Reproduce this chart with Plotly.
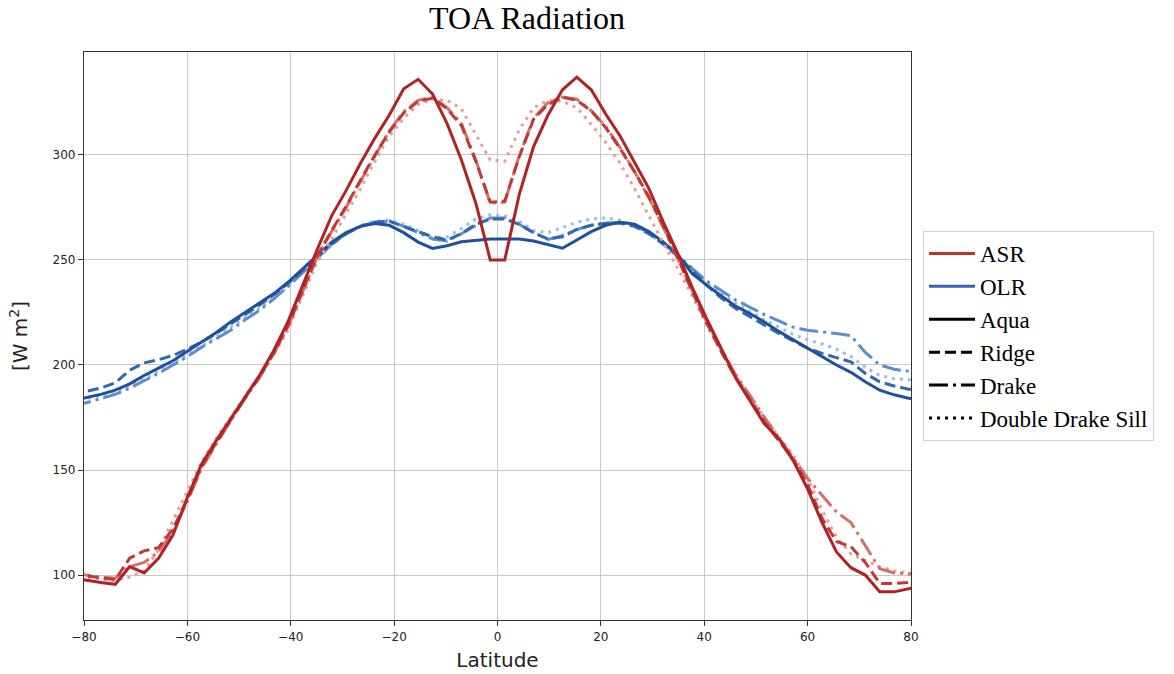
import plotly.graph_objects as go

latitude = [-82.31, -79.53, -76.74, -73.95, -71.16, -68.37, -65.58, -62.79, -60.00, -57.21,
            -54.42, -51.63, -48.84, -46.05, -43.26, -40.47, -37.67, -34.88, -32.09, -29.30,
            -26.51, -23.72, -20.93, -18.14, -15.35, -12.56, -9.77, -6.98, -4.19, -1.40,
            1.40, 4.19, 6.98, 9.77, 12.56, 15.35, 18.14, 20.93, 23.72, 26.51,
            29.30, 32.09, 34.88, 37.67, 40.47, 43.26, 46.05, 48.84, 51.63, 54.42,
            57.21, 60.00, 62.79, 65.58, 68.37, 71.16, 73.95, 76.74, 79.53, 82.31]

asr_aqua = [99, 97.5, 96.5, 95.6, 104, 101, 108, 119, 137, 153,
            164, 174.5, 185, 195, 207, 221, 238, 255, 271, 283,
            296, 308, 319, 331.5, 336, 329, 315, 297.6, 277, 250,
            250, 281, 304, 319, 331, 337, 331, 319.5, 309, 296.5,
            284, 268, 253, 237, 222, 208, 194, 183, 172, 165,
            154.5, 141, 125, 111, 103.5, 100, 92, 92, 93.5, 95]
asr_ridge = [100.5, 99.5, 98.5, 97.8, 108, 111.5, 113, 122, 136, 152,
             163, 174, 184.5, 194.5, 206, 219, 236, 252, 264, 275.5,
             288, 300, 311, 320, 325.5, 327, 322, 314, 297, 277.5,
             278, 299, 317, 324, 327.5, 326, 321, 313, 303, 292,
             280, 266, 251, 235, 220, 206.5, 194, 183.5, 173, 164,
             155, 143, 127, 116, 113.5, 106, 96, 96, 96.5, 97]
asr_drake = [101, 100, 99, 98.5, 104, 106, 111, 121, 135, 151,
             162.5, 173.5, 184, 194, 205.5, 218.5, 235, 251.5, 263.5, 275,
             287.5, 299.5, 311.5, 320.5, 326, 327.5, 322.5, 315, 297.5, 277,
             277.5, 299.5, 317.5, 325, 327.5, 326.5, 321, 313.5, 303.5, 292,
             279.5, 265.5, 250.5, 235, 220.5, 207.5, 195.5, 185.5, 175, 165.5,
             156, 146, 138, 130, 125, 114, 103, 101, 100.5, 100.5]
asr_dds = [100, 99, 98, 97.5, 99, 102, 112, 126, 140, 154,
           165, 175, 185, 194.5, 205, 217, 233, 249, 260, 272,
           284, 297, 309, 317.5, 324, 326.5, 326, 322, 310, 297.5,
           297, 312, 322.5, 326, 325.5, 322.5, 314.5, 306, 296, 284,
           271, 258, 246, 233, 219, 206.5, 195, 185, 175, 166,
           157, 146, 131, 118, 110, 107, 104, 102, 101, 101]

olr_aqua = [183.5, 184.5, 186, 188, 191, 195, 198.5, 202, 206.5, 211,
            215.5, 220.5, 225, 229.5, 234, 239.5, 246, 252.5, 258.5, 263,
            266, 267.3, 266.5, 263, 258.5, 255.5, 256.8, 258.7, 259.5, 260,
            260, 260, 259, 257.2, 255.6, 259.5, 263.5, 266.5, 268, 267,
            263.5, 258.5, 252.5, 243.5, 238, 233, 228, 224.5, 220.5, 216,
            212, 208.3, 204, 200, 196.5, 192, 188, 185.8, 184.2, 183.5]
olr_ridge = [186.5, 187.5, 189, 191.5, 197.5, 201, 202.5, 204.5, 207.5, 211,
             215, 219.5, 224, 228.5, 233.5, 239, 245, 251.5, 257.5, 262.5,
             266, 268, 268.5, 266, 263.5, 261, 259.5, 262.5, 267, 269.5,
             269.5, 267, 263, 260, 261, 264.5, 266.5, 267.5, 267.5, 266,
             262.5, 257.5, 252, 245, 238, 232, 227, 223, 219, 215,
             211.5, 208, 205.5, 203.5, 201.5, 196, 192, 190, 188.5, 188]
olr_drake = [181, 182, 184, 186, 189, 192.5, 196, 200, 204, 208.5,
             212.5, 216.5, 221.5, 226, 231.5, 237.5, 244, 251, 257.5, 262.5,
             266, 268, 268.3, 266, 263, 260, 259, 262.5, 266.5, 270,
             270, 267, 263, 259.8, 261.5, 264.5, 266.5, 267.5, 268, 266.5,
             263, 258, 252.5, 246, 240, 235.5, 231, 227.5, 224, 221,
             218, 216.5, 215.8, 215, 214, 206, 200, 198, 197, 196.5]
olr_dds = [183, 184, 185.5, 187.5, 190, 193.5, 197, 201, 205, 209,
           213.5, 218, 222.5, 227, 232, 237.5, 244, 250.5, 257, 262.5,
           266.5, 268.5, 269, 267, 264, 260.5, 261, 265, 269.5, 271.5,
           271, 268.5, 264, 263, 265.5, 268, 269.5, 270, 269, 266.5,
           262.5, 257.5, 251.5, 245, 239, 234, 229.5, 225.5, 221.5, 218,
           214.5, 212, 210, 207.5, 204, 199, 195, 193.5, 193, 192.5]

experiments = ["Aqua", "Ridge", "Drake", "Double Drake Sill"]

SERIF = "Liberation Serif, Times New Roman, serif"
SANS = "DejaVu Sans, sans-serif"

dash_styles = ["solid", "11px,5px", "19px,5px,3px,5px", "3px,5px"]
red_shades = ["rgb(178,34,34)", "rgb(192,58,52)", "rgb(212,112,106)", "rgb(228,158,156)"]
blue_shades = ["rgb(30,80,158)", "rgb(48,104,178)", "rgb(92,142,205)", "rgb(152,190,234)"]

asr_series = [asr_aqua, asr_ridge, asr_drake, asr_dds]
olr_series = [olr_aqua, olr_ridge, olr_drake, olr_dds]

fig = go.Figure()

# lightest first, Aqua last (on top)
for i in [3, 2, 1, 0]:
    fig.add_trace(go.Scatter(x=latitude, y=olr_series[i], mode="lines",
                             line=dict(color=blue_shades[i], width=3, dash=dash_styles[i]),
                             showlegend=False, name=f"OLR {experiments[i]}"))
for i in [3, 2, 1, 0]:
    fig.add_trace(go.Scatter(x=latitude, y=asr_series[i], mode="lines",
                             line=dict(color=red_shades[i], width=3, dash=dash_styles[i]),
                             showlegend=False, name=f"ASR {experiments[i]}"))

# legend entries
fig.add_trace(go.Scatter(x=[None], y=[None], mode="lines", name="ASR",
                         line=dict(color="rgb(190,50,46)", width=3)))
fig.add_trace(go.Scatter(x=[None], y=[None], mode="lines", name="OLR",
                         line=dict(color="rgb(52,100,180)", width=3)))
for i, nm in enumerate(experiments):
    fig.add_trace(go.Scatter(x=[None], y=[None], mode="lines", name=nm,
                             line=dict(color="black", width=3, dash=dash_styles[i])))

axis_common = dict(showgrid=True, gridcolor="#c8c8c8", gridwidth=1.2,
                   showline=True, mirror=True, linecolor="#333333", linewidth=1.3,
                   ticks="outside", ticklen=5, tickcolor="#333333", tickwidth=1,
                   zeroline=False, automargin=False,
                   tickfont=dict(family=SANS, size=12, color="#222222"))

fig.update_layout(
    width=1174, height=674,
    margin=dict(l=84, r=263, t=52, b=54, autoexpand=False),
    paper_bgcolor="white", plot_bgcolor="white",
    title=dict(text="TOA Radiation", x=527 / 1174, xanchor="center", xref="container",
               y=1 - 18 / 674, yanchor="middle", yref="container",
               font=dict(family=SERIF, size=32, color="black")),
    xaxis=dict(range=[-80, 80], tickvals=[-80, -60, -40, -20, 0, 20, 40, 60, 80],
               title=dict(text="Latitude", font=dict(family=SANS, size=20, color="#222222"), standoff=10),
               **axis_common),
    yaxis=dict(range=[78.6, 349], tickvals=[100, 150, 200, 250, 300],
               title=dict(text="[W m<sup>2</sup>]", font=dict(family=SANS, size=20, color="#222222"), standoff=19),
               **axis_common),
    legend=dict(x=(923 - 84) / 827, xanchor="left", y=(620 - 231) / 568, yanchor="top",
                font=dict(family=SERIF, size=23, color="black"),
                bordercolor="#d0d0d0", borderwidth=1, bgcolor="white",
                tracegroupgap=0, itemwidth=46),
)

fig.write_html("out.html")
